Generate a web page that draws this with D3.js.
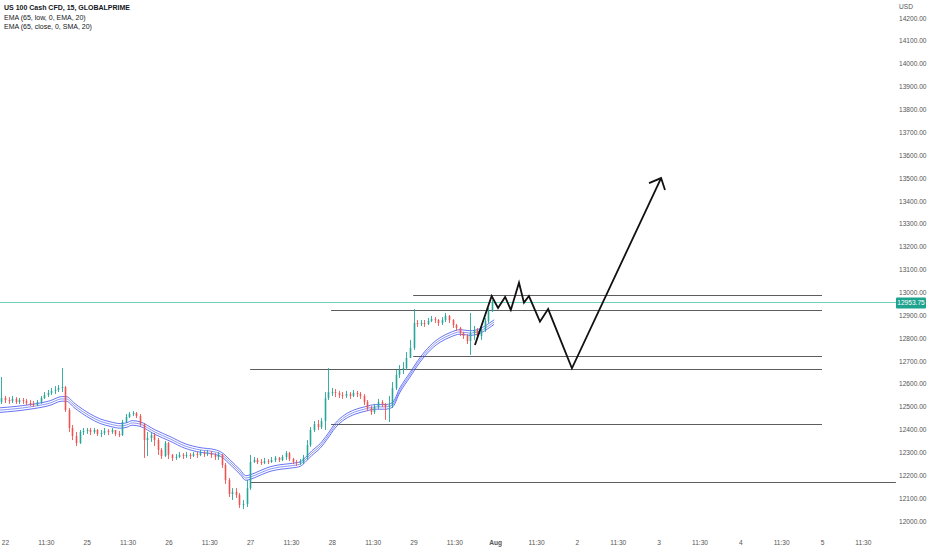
<!DOCTYPE html>
<html>
<head>
<meta charset="utf-8">
<script src="https://cdn.jsdelivr.net/npm/d3@7/dist/d3.min.js"></script>
<style>
  html, body { margin: 0; padding: 0; background: #ffffff; }
  svg { display: block; }
  text { font-family: "Liberation Sans", Arial, sans-serif; }
</style>
</head>
<body>
<svg id="chart" width="932" height="550"></svg>
<script>
// ---------- DATA ----------
const legendLines = ["US 100 Cash CFD, 15, GLOBALPRIME", "EMA (65, low, 0, EMA, 20)", "EMA (65, close, 0, SMA, 20)"];
const currency = "USD";
const timeLabels = ["22","11:30","25","11:30","26","11:30","27","11:30","28","11:30","29","11:30","Aug","11:30","2","11:30","3","11:30","4","11:30","5","11:30"];
const priceTicks = [12000,12100,12200,12300,12400,12500,12600,12700,12800,12900,13000,13100,13200,13300,13400,13500,13600,13700,13800,13900,14000,14100,14200];
const lastPrice = 12953.75;

// candles (bar index starts at -1, open of each bar = previous close)
const firstBar = -1;
const firstOpen = 12520;
const closes = [12538,
 12529,12525,12534,12520,12529,12525,12516,12512,12507,12520,
 12538,12551,12560,12569,12573,12582,12586,12485,12407,12372,
 12341,12389,12394,12398,12389,12398,12381,12385,12394,12389,
 12398,12381,12376,12433,12455,12468,12472,12459,12424,12354,
 12363,12376,12354,12311,12284,12341,12289,12276,12280,12289,
 12284,12289,12284,12293,12289,12297,12293,12297,12289,12280,
 12289,12245,12179,12118,12127,12114,12070,12074,12144,12258,
 12267,12258,12254,12262,12258,12267,12276,12267,12280,12297,
 12271,12258,12254,12258,12276,12332,12398,12424,12411,12437,
 12538,12564,12564,12560,12551,12547,12555,12547,12560,12555,
 12547,12520,12494,12477,12499,12520,12512,12499,12507,12582,
 12639,12660,12669,12713,12757,12866,12862,12866,12862,12875,
 12883,12879,12866,12879,12897,12879,12857,12844,12822,12809,
 12787,12822,12835,12809,12835,12875,12918,12953.75];
const highs = [12630,
 12547,12542,12547,12542,12538,12538,12534,12529,12525,12529,
 12547,12564,12573,12582,12590,12595,12669,12590,12494,12420,
 12389,12398,12407,12407,12407,12407,12402,12398,12407,12402,
 12407,12398,12394,12442,12468,12477,12481,12477,12468,12429,
 12389,12389,12385,12363,12319,12350,12346,12293,12293,12302,
 12297,12302,12297,12302,12302,12311,12306,12311,12306,12297,
 12302,12293,12254,12188,12144,12144,12122,12092,12179,12289,
 12280,12276,12271,12276,12271,12280,12284,12280,12289,12306,
 12302,12276,12267,12271,12289,12354,12411,12437,12442,12450,
 12564,12669,12582,12577,12569,12564,12569,12564,12573,12569,
 12564,12555,12529,12503,12512,12534,12529,12516,12547,12608,
 12660,12682,12695,12739,12792,12927,12879,12879,12879,12888,
 12897,12892,12883,12892,12910,12901,12883,12862,12849,12827,
 12818,12910,12853,12844,12849,12888,12932,12967];
const lows = [12512,
 12516,12512,12516,12512,12512,12512,12507,12503,12499,12503,
 12512,12534,12542,12551,12555,12564,12564,12477,12389,12354,
 12328,12337,12376,12381,12376,12381,12372,12367,12376,12376,
 12381,12372,12367,12372,12429,12450,12459,12450,12416,12276,
 12284,12346,12328,12289,12271,12280,12271,12262,12267,12276,
 12271,12276,12271,12280,12276,12284,12280,12284,12276,12267,
 12267,12232,12162,12105,12092,12101,12057,12052,12061,12136,
 12254,12249,12245,12249,12249,12254,12258,12258,12262,12267,
 12262,12249,12241,12245,12249,12267,12324,12389,12398,12402,
 12398,12529,12547,12542,12538,12534,12538,12534,12542,12542,
 12534,12507,12481,12464,12468,12490,12499,12442,12433,12494,
 12573,12625,12643,12660,12722,12748,12849,12853,12849,12857,
 12870,12866,12853,12857,12870,12866,12844,12831,12809,12796,
 12774,12726,12792,12796,12792,12827,12866,12914];

// EMA band (three lines)
const emaBar = [-1.4,7.0,12.7,16.0,17.2,19.7,23.9,26.7,29.6,32.4,34.3,35.8,38.0,42.2,46.5,50.7,54.9,59.1,61.1,63.3,66.2,67.8,69.0,71.8,74.6,77.4,80.2,83.1,84.5,86.4,88.7,90.9,92.9,95.7,98.5,101.4,104.2,107.0,109.0,111.2,114.0,116.8,119.7,122.5,125.3,128.1,130.9,133.7,136.5,137.7];
const emaUpper = [12495,12509,12526,12544,12544,12513,12469,12447,12434,12426,12430,12439,12434,12399,12369,12338,12321,12312,12299,12268,12224,12198,12202,12220,12237,12246,12251,12259,12277,12307,12338,12382,12426,12465,12487,12500,12509,12509,12517,12583,12649,12714,12767,12802,12824,12837,12832,12841,12867,12880];
const emaMid = [12485,12499,12516,12534,12534,12503,12459,12437,12424,12416,12420,12429,12424,12389,12359,12328,12311,12302,12289,12258,12214,12188,12192,12210,12227,12236,12241,12249,12267,12297,12328,12372,12416,12455,12477,12490,12499,12499,12507,12573,12639,12704,12757,12792,12814,12827,12822,12831,12857,12870];
const emaLower = [12475,12489,12506,12524,12524,12493,12449,12427,12414,12406,12410,12419,12414,12379,12349,12318,12301,12292,12279,12248,12204,12178,12182,12200,12217,12226,12231,12239,12257,12287,12318,12362,12406,12445,12467,12480,12489,12489,12497,12563,12629,12694,12747,12782,12804,12817,12812,12821,12847,12860];

// drawn horizontal levels
const levelPrice = [12989, 12923, 12722, 12665, 12424, 12171];
const levelStart = [114.9, 91.8, 114.9, 69.0, 91.8, 69.0];
const levelEnd   = [230, 230, 230, 230, 230, 250.8];

// projected path + arrow head
const projBar   = [132.3, 137.0, 138.8, 140.8, 142.4, 144.7, 146.1, 147.5, 150.6, 152.9, 159.6, 184.7];
const projPrice = [12770, 12984, 12932, 12980, 12923, 13042, 12955, 12984, 12872, 12927, 12668, 13500];
const arrowBar   = [181.3, 184.7, 185.8];
const arrowPrice = [13478, 13500, 13448];

// ---------- CHART ----------
const W = 932, H = 550;
const plotRight = 896;
const svg = d3.select("#chart");
svg.append("rect").attr("width", W).attr("height", H).attr("fill", "#ffffff");

const x = d3.scaleLinear().domain([0, 230]).range([5, 822]);
const y = d3.scaleLinear().domain([12000, 14200]).range([521, 18]);

svg.append("defs").append("clipPath").attr("id", "plotclip")
  .append("rect").attr("x", 0).attr("y", 0).attr("width", plotRight).attr("height", H);

const plot = svg.append("g").attr("clip-path", "url(#plotclip)");

// last price line
plot.append("line")
  .attr("x1", 0).attr("x2", plotRight)
  .attr("y1", Math.round(y(lastPrice)) - 0.5).attr("y2", Math.round(y(lastPrice)) - 0.5)
  .attr("stroke", "#6fcfc1").attr("stroke-width", 1);

// levels
levelPrice.forEach((p, i) => {
  const yy = Math.round(y(p)) + 0.5;
  plot.append("line")
    .attr("x1", x(levelStart[i])).attr("x2", x(levelEnd[i]))
    .attr("y1", yy).attr("y2", yy)
    .attr("stroke", "#5d5d5d").attr("stroke-width", 1.2);
});

// EMA lines
const emaLine = d3.line().x(d => x(d[0])).y(d => y(d[1])).curve(d3.curveMonotoneX);
[emaUpper, emaMid, emaLower].forEach((arr, k) => {
  plot.append("path")
    .datum(emaBar.map((b, i) => [b, arr[i]]))
    .attr("d", emaLine)
    .attr("fill", "none")
    .attr("stroke", k === 1 ? "#6f7cf5" : "#3f51f0")
    .attr("stroke-width", 0.8);
});

// candles
const candles = closes.map((c, i) => ({
  bar: firstBar + i,
  open: i === 0 ? firstOpen : closes[i - 1],
  close: c, high: highs[i], low: lows[i]
}));
const bodyW = 1.6;
const cg = plot.append("g");
candles.forEach(d => {
  const up = d.close >= d.open;
  const col = up ? "#26a69a" : "#ef5350";
  const cx = Math.round(x(d.bar));
  cg.append("line")
    .attr("x1", cx + 0.5).attr("x2", cx + 0.5)
    .attr("y1", y(Math.max(d.high, d.open, d.close)))
    .attr("y2", y(Math.min(d.low, d.open, d.close)))
    .attr("stroke", col).attr("stroke-width", 0.9);
  const top = y(Math.max(d.open, d.close));
  const bot = y(Math.min(d.open, d.close));
  cg.append("rect")
    .attr("x", cx - bodyW / 2 + 0.5).attr("width", bodyW)
    .attr("y", top).attr("height", Math.max(1, bot - top))
    .attr("fill", col);
});

// projected path
const pLine = d3.line().x(d => x(d[0])).y(d => y(d[1]));
plot.append("path")
  .datum(projBar.map((b, i) => [b, projPrice[i]]))
  .attr("d", pLine)
  .attr("fill", "none").attr("stroke", "#111111")
  .attr("stroke-width", 1.8).attr("stroke-linejoin", "miter");
plot.append("path")
  .datum(arrowBar.map((b, i) => [b, arrowPrice[i]]))
  .attr("d", pLine)
  .attr("fill", "none").attr("stroke", "#111111")
  .attr("stroke-width", 1.8).attr("stroke-linejoin", "miter");

// price axis
const yAxis = d3.axisRight(y).tickValues(priceTicks).tickFormat(d => d.toFixed(2)).tickSize(0).tickPadding(3);
const ya = svg.append("g").attr("transform", `translate(${plotRight},0)`).call(yAxis);
ya.select(".domain").remove();
ya.selectAll("text").attr("fill", "#555").style("font-size", "6.6px");

svg.append("text").attr("x", 899).attr("y", 8.5).text(currency)
  .attr("fill", "#555").style("font-size", "6.6px");

// last price label
const lpY = y(lastPrice);
svg.append("rect").attr("x", 896).attr("y", lpY - 5.5).attr("width", 30).attr("height", 11)
  .attr("fill", "#1ea38f").attr("rx", 1);
svg.append("text").attr("x", 911).attr("y", lpY + 2.4).attr("text-anchor", "middle")
  .text(lastPrice.toFixed(2)).attr("fill", "#ffffff").style("font-size", "6.6px");

// time axis
const tickBars = timeLabels.map((_, i) => i * 11.5);
const xAxis = d3.axisBottom(x).tickValues(tickBars).tickFormat((d, i) => timeLabels[i]).tickSize(0).tickPadding(3);
const xa = svg.append("g").attr("transform", "translate(0,537.5)").call(xAxis);
xa.select(".domain").remove();
xa.selectAll("text").attr("fill", "#555").style("font-size", "6.6px")
  .style("font-weight", (d, i) => timeLabels[i] === "Aug" ? "700" : "400");

// legend
const lg = svg.append("g");
legendLines.forEach((t, i) => {
  lg.append("text").attr("x", 4).attr("y", [10, 19.5, 28.5][i]).text(t)
    .attr("fill", "#131722")
    .style("font-size", "7px")
    .style("font-weight", i === 0 ? "700" : "400");
});
</script>
</body>
</html>
